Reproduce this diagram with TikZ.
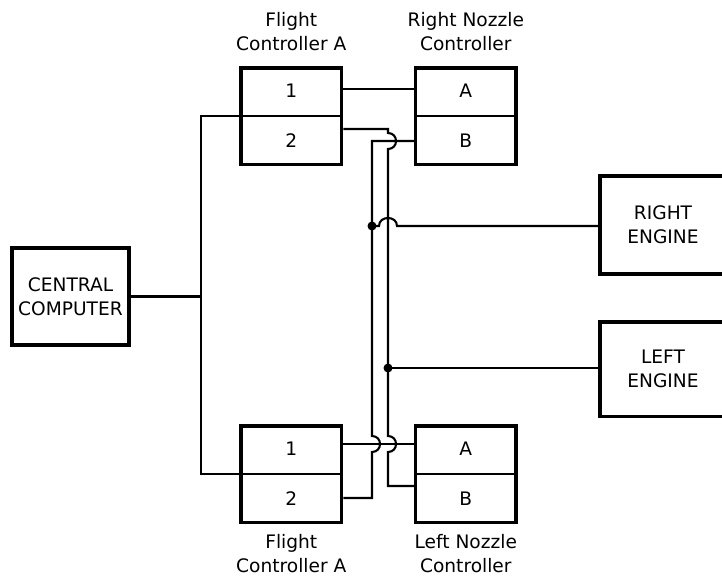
\documentclass[tikz,border=0pt]{standalone}
\usepackage{fontspec}
\setmainfont{DejaVu Sans}
\begin{document}
\begin{tikzpicture}[x=1pt,y=-1pt,
  font=\fontsize{18.6}{24}\selectfont,
  box/.style={draw,line width=3.6pt,inner sep=0pt,align=center},
  fcbox/.style={box,minimum width=100.4pt,minimum height=96.6pt},
  cell/.style={inner sep=0pt},
  lbl/.style={align=center,inner sep=0pt},
  wire/.style={line width=2.1pt},
  dotnode/.style={circle,fill,inner sep=0pt,minimum size=9pt}]
\useasboundingbox (0,0) rectangle (722,578);

% boxes
\node[box,minimum width=117.4pt,minimum height=97.4pt] (cc) at (70.5,296.5) {CENTRAL\\COMPUTER};
\node[fcbox] (fcT) at (291.3,116.3) {};
\node[fcbox] (rn) at (465.8,116.3) {};
\node[fcbox] (fcB) at (291.3,474) {};
\node[fcbox] (ln) at (465.8,474) {};
\node[box,minimum width=126.4pt,minimum height=97.6pt] (re) at (663,225) {RIGHT\\ENGINE};
\node[box,minimum width=126.4pt,minimum height=94.6pt] (le) at (663,369) {LEFT\\ENGINE};

% dividers
\draw[wire] (fcT.west) -- (fcT.east);
\draw[wire] (rn.west) -- (rn.east);
\draw[wire] (fcB.west) -- (fcB.east);
\draw[wire] (ln.west) -- (ln.east);

% cells
\node[cell] (fcT1) at (291.3,91) {1};
\node[cell] (fcT2) at (291.3,141) {2};
\node[cell] (rnA) at (465.8,91) {A};
\node[cell] (rnB) at (465.8,141) {B};
\node[cell] (fcB1) at (291.3,449) {1};
\node[cell] (fcB2) at (291.3,499) {2};
\node[cell] (lnA) at (465.8,449) {A};
\node[cell] (lnB) at (465.8,499) {B};

% labels
\node[lbl] (fcTl) at (291.3,32) {Flight\\Controller A};
\node[lbl] (rnl) at (465.8,32) {Right Nozzle\\Controller};
\node[lbl] (fcBl) at (291.3,554) {Flight\\Controller A};
\node[lbl] (lnl) at (465.8,554) {Left Nozzle\\Controller};

% junction dots
\node[dotnode] (d1) at (372,226) {};
\node[dotnode] (d2) at (388,368) {};

% wires
\draw[wire] (cc.east) -- (201,296.5);
\draw[wire] (fcT.west) -- (201,116.3) -- (201,474) -- (fcB.west);
\draw[wire] (fcT.east |- 0,89) -- (rn.west |- 0,89);
\draw[wire] (fcT.east |- 0,129) -- (388,129) -- (388,133)
  .. controls (398.67,133) and (398.67,149) .. (388,149) -- (388,436)
  .. controls (398.67,436) and (398.67,452) .. (388,452) -- (388,486) -- (ln.west |- 0,486);
\draw[wire] (rn.west |- 0,141) -- (372,141) -- (372,436)
  .. controls (382.67,436) and (382.67,452) .. (372,452) -- (372,498) -- (fcB.east |- 0,498);
\draw[wire] (d1.center) -- (379,226) .. controls (379,215.33) and (397,215.33) .. (397,226) -- (re.west |- 0,226);
\draw[wire] (d2.center) -- (le.west |- 0,368);
\draw[wire] (fcB.east |- 0,444) -- (ln.west |- 0,444);
\end{tikzpicture}
\end{document}
